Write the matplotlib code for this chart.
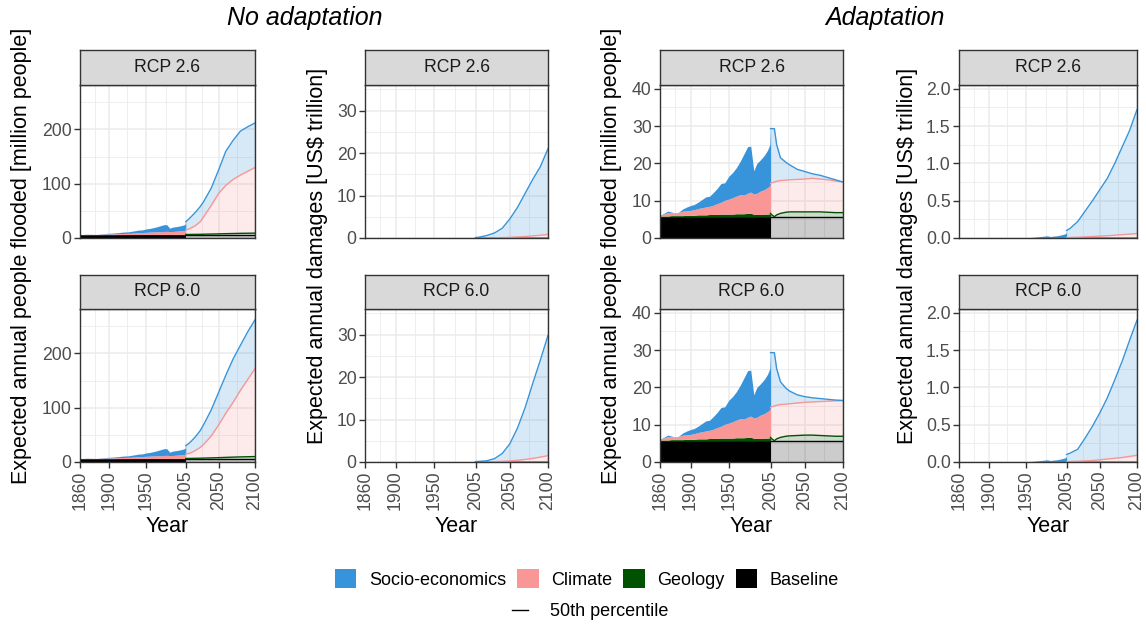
import matplotlib
matplotlib.use('Agg')
import matplotlib.pyplot as plt
from matplotlib.patches import Patch
from matplotlib.lines import Line2D
from matplotlib.ticker import FixedLocator, MultipleLocator, FormatStrFormatter

plt.rcParams['font.family'] = ['Liberation Sans', 'DejaVu Sans']

W, H = 1146, 624

# colours of the four drivers
col_socio = '#3794DA'
col_climate = '#F99696'
col_geology = '#005200'
col_base = '#000000'

# ---- historical period (shared by all panels) ----
hist_years = [1860, 1865, 1870, 1875, 1880, 1885, 1890, 1895, 1900, 1905, 1910, 1915,
              1920, 1925, 1930, 1935, 1940, 1945, 1950, 1955, 1960, 1965, 1970, 1975,
              1979, 1983, 1987, 1992, 1997, 2001, 2004, 2005]
# people flooded, top of each stacked layer [million]
hist_ppl_base = [5.6] * 32
hist_ppl_geo = [5.9, 5.9, 5.9, 6.0, 6.0, 6.0, 6.0, 6.1, 6.1, 6.1, 6.2, 6.2,
                6.2, 6.3, 6.3, 6.3, 6.4, 6.4, 6.4, 6.4, 6.5, 6.5, 6.5, 6.6,
                6.6, 6.4, 6.3, 6.3, 6.4, 6.4, 6.5, 6.5]
hist_ppl_clim = [6.0, 6.4, 6.8, 6.9, 6.7, 6.9, 7.2, 7.3, 7.4, 7.6, 7.9, 8.1,
                 8.3, 8.5, 8.8, 9.2, 9.6, 10.1, 10.4, 10.8, 11.2, 11.6, 11.5, 12.0,
                 12.3, 11.8, 12.0, 12.6, 13.0, 13.5, 14.0, 14.6]
hist_ppl_socio = [6.1, 6.6, 7.2, 7.0, 6.6, 7.0, 7.8, 8.3, 8.7, 9.0, 9.6, 10.3,
                  11.0, 11.2, 12.2, 13.3, 14.6, 14.8, 16.5, 17.5, 18.8, 20.5, 22.5, 24.5,
                  24.6, 18.0, 20.0, 21.0, 22.2, 23.5, 25.0, 30.5]
# damages, top of each stacked layer [US$ trillion]
hist_dmg_base = [0.0] * 32
hist_dmg_geo = [0.0] * 32
hist_dmg_clim = [0.0] * 26 + [0.001, 0.001, 0.002, 0.002, 0.003, 0.004]
hist_dmg_socio = [0.0] * 18 + [0.002, 0.005, 0.01, 0.015, 0.02, 0.025,
                               0.03, 0.02, 0.025, 0.03, 0.04, 0.05, 0.06, 0.09]

# ---- future, people flooded ----
fut_years = [2005, 2006, 2010, 2013, 2018, 2025, 2030, 2040, 2050, 2060, 2070, 2080, 2090, 2100]

na26_ppl_base = [5.6] * 14
na26_ppl_geo = [6.5, 6.5, 6.6, 6.6, 6.7, 6.8, 7.0, 7.3, 7.6, 8.0, 8.3, 8.6, 8.8, 9.0]
na26_ppl_clim = [14.6, 15.0, 17.0, 19.0, 22.5, 30.0, 40.0, 60.0, 82.0, 97.0, 108.0, 116.0, 123.0, 130.0]
na26_ppl_socio = [30.0, 31.0, 36.0, 40.0, 47.0, 58.0, 68.0, 92.0, 125.0, 160.0, 180.0, 197.0, 205.0, 212.0]

na60_ppl_base = [5.6] * 14
na60_ppl_geo = [6.5, 6.5, 6.6, 6.7, 6.8, 7.0, 7.2, 7.6, 8.0, 8.5, 9.0, 9.4, 9.7, 10.0]
na60_ppl_clim = [14.6, 15.0, 16.0, 17.5, 21.0, 27.0, 33.0, 48.0, 68.0, 90.0, 110.0, 132.0, 152.0, 172.0]
na60_ppl_socio = [30.0, 31.0, 35.0, 39.0, 46.0, 58.0, 70.0, 96.0, 128.0, 160.0, 190.0, 215.0, 240.0, 262.0]

ad26_ppl_base = [5.6] * 14
ad26_ppl_geo = [6.6, 6.3, 5.7, 6.2, 6.6, 6.9, 7.0, 7.0, 7.0, 7.0, 7.0, 6.9, 6.8, 6.8]
ad26_ppl_clim = [14.6, 14.8, 15.0, 15.2, 15.4, 15.5, 15.6, 15.7, 15.8, 16.0, 15.8, 15.6, 15.3, 15.0]
ad26_ppl_socio = [29.3, 29.3, 29.3, 25.0, 21.5, 20.3, 19.6, 18.4, 17.8, 17.2, 16.8, 16.2, 15.6, 15.0]

ad60_ppl_base = [5.6] * 14
ad60_ppl_geo = [6.6, 6.3, 5.7, 6.2, 6.6, 6.9, 7.0, 7.1, 7.2, 7.2, 7.1, 7.0, 6.9, 6.9]
ad60_ppl_clim = [14.6, 14.8, 15.0, 15.2, 15.4, 15.5, 15.6, 15.8, 16.0, 16.1, 16.2, 16.3, 16.4, 16.4]
ad60_ppl_socio = [29.3, 29.3, 29.3, 25.0, 21.5, 19.8, 19.0, 18.0, 17.5, 17.2, 17.0, 16.8, 16.6, 16.5]

# ---- future, damages ----
fut_dmg_years = [2005, 2010, 2020, 2030, 2040, 2050, 2060, 2070, 2080, 2090, 2100]
zero_dmg = [0.0] * 11

na26_dmg_clim = [0.0, 0.0, 0.02, 0.05, 0.1, 0.15, 0.25, 0.35, 0.5, 0.65, 0.85]
na26_dmg_socio = [0.1, 0.2, 0.6, 1.2, 2.3, 4.5, 7.2, 10.5, 13.8, 16.8, 21.0]

na60_dmg_clim = [0.0, 0.0, 0.03, 0.08, 0.15, 0.25, 0.4, 0.6, 0.85, 1.15, 1.5]
na60_dmg_socio = [0.1, 0.15, 0.3, 0.8, 2.0, 4.3, 8.0, 12.8, 18.5, 24.0, 29.8]

ad26_dmg_clim = [0.005, 0.007, 0.01, 0.015, 0.02, 0.025, 0.03, 0.037, 0.045, 0.052, 0.06]
ad26_dmg_socio = [0.1, 0.13, 0.22, 0.36, 0.5, 0.65, 0.8, 1.0, 1.22, 1.44, 1.72]

ad60_dmg_clim = [0.005, 0.007, 0.01, 0.015, 0.02, 0.03, 0.04, 0.05, 0.06, 0.075, 0.09]
ad60_dmg_socio = [0.1, 0.12, 0.17, 0.32, 0.48, 0.66, 0.86, 1.1, 1.35, 1.63, 1.9]

scenarios = ['RCP 2.6', 'RCP 6.0']
x_major = [1860, 1900, 1950, 2005, 2050, 2100]
x_minor = [1880, 1925, 1977.5, 2027.5, 2075]

hist_ppl = (hist_ppl_base, hist_ppl_geo, hist_ppl_clim, hist_ppl_socio)
hist_dmg = (hist_dmg_base, hist_dmg_geo, hist_dmg_clim, hist_dmg_socio)

# column: (left px, right px, ylim top, major, minor, fmt, ylabel, historical, future per scenario)
columns = [
    (80, 255, 282, 100, 50, '%d', 'Expected annual people flooded [million people]', hist_ppl, fut_years,
     [(na26_ppl_base, na26_ppl_geo, na26_ppl_clim, na26_ppl_socio),
      (na60_ppl_base, na60_ppl_geo, na60_ppl_clim, na60_ppl_socio)]),
    (365, 548, 36, 10, 5, '%d', 'Expected annual damages [US$ trillion]', hist_dmg, fut_dmg_years,
     [(zero_dmg, zero_dmg, na26_dmg_clim, na26_dmg_socio),
      (zero_dmg, zero_dmg, na60_dmg_clim, na60_dmg_socio)]),
    (660, 843, 41, 10, 5, '%d', 'Expected annual people flooded [million people]', hist_ppl, fut_years,
     [(ad26_ppl_base, ad26_ppl_geo, ad26_ppl_clim, ad26_ppl_socio),
      (ad60_ppl_base, ad60_ppl_geo, ad60_ppl_clim, ad60_ppl_socio)]),
    (959, 1137, 2.05, 0.5, 0.25, '%.1f', 'Expected annual damages [US$ trillion]', hist_dmg, fut_dmg_years,
     [(zero_dmg, zero_dmg, ad26_dmg_clim, ad26_dmg_socio),
      (zero_dmg, zero_dmg, ad60_dmg_clim, ad60_dmg_socio)]),
]
ylabel_x = [22, 318, 612, 907]

# rows: (strip top, panel top, panel bottom) in px
rows = [(50, 85, 238), (275, 309, 462)]

layer_cols = [col_base, col_geology, col_climate, col_socio]


def fig_rect(left, top, right, bottom):
    return [left / W, 1 - bottom / H, (right - left) / W, (bottom - top) / H]


fig = plt.figure(figsize=(W / 100, H / 100), dpi=100)

for ci, (left, right, ytop, major, minor, fmt, ylab, hist, fyears, futs) in enumerate(columns):
    for ri, (s_top, p_top, p_bot) in enumerate(rows):
        ax = fig.add_axes(fig_rect(left, p_top, right, p_bot))
        # historical, solid stack
        lower = [0.0] * len(hist_years)
        for layer, c in zip(hist, layer_cols):
            ax.fill_between(hist_years, lower, layer, color=c, linewidth=0, zorder=2)
            lower = layer
        # future, transparent stack with median lines
        fut = futs[ri]
        lower = [0.0] * len(fyears)
        for layer, c in zip(fut, layer_cols):
            ax.fill_between(fyears, lower, layer, color=c, alpha=0.2, linewidth=0, zorder=2)
            ax.plot(fyears, layer, color=c, linewidth=1.0, zorder=3)
            lower = layer

        ax.set_xlim(1860, 2100)
        ax.set_ylim(0, ytop)
        ax.xaxis.set_major_locator(FixedLocator(x_major))
        ax.xaxis.set_minor_locator(FixedLocator(x_minor))
        ax.yaxis.set_major_locator(MultipleLocator(major))
        ax.yaxis.set_minor_locator(MultipleLocator(minor))
        ax.yaxis.set_major_formatter(FormatStrFormatter(fmt))
        ax.grid(which='major', color='#EBEBEB', linewidth=1.1, zorder=0)
        ax.grid(which='minor', color='#EBEBEB', linewidth=0.6, zorder=0)
        ax.set_axisbelow(True)
        for sp in ax.spines.values():
            sp.set_color('#333333')
            sp.set_linewidth(1.0)
            sp.set_zorder(5)
        ax.tick_params(which='major', direction='out', length=4, width=1,
                       color='#333333', labelcolor='#4D4D4D', labelsize=12.7, pad=2)
        ax.tick_params(which='minor', length=0)
        if ri == 0:
            ax.tick_params(axis='x', which='both', bottom=False, labelbottom=False)
        else:
            ax.set_xticklabels([str(v) for v in x_major], rotation=90)

        # facet strip
        sax = fig.add_axes(fig_rect(left, s_top, right, p_top))
        sax.set_facecolor('#D9D9D9')
        sax.set_xticks([])
        sax.set_yticks([])
        for sp in sax.spines.values():
            sp.set_color('#333333')
            sp.set_linewidth(1.0)
        sax.text(0.5, 0.5, scenarios[ri], ha='center', va='center', fontsize=12.7,
                 color='#1A1A1A', transform=sax.transAxes)

    fig.text(ylabel_x[ci] / W, 1 - 256 / H, ylab, rotation=90, ha='center', va='center',
             fontsize=15.5, color='black')
    fig.text((left + right) / 2 / W, 1 - 527 / H, 'Year', ha='center', va='center',
             fontsize=15.5, color='black')

fig.text(305 / W, 1 - 18 / H, 'No adaptation', ha='center', va='center',
         fontsize=18, style='italic')
fig.text(885 / W, 1 - 18 / H, 'Adaptation', ha='center', va='center',
         fontsize=18, style='italic')

# legends
handles = [Patch(facecolor=c, edgecolor='none') for c in [col_socio, col_climate, col_geology, col_base]]
labels = ['Socio-economics', 'Climate', 'Geology', 'Baseline']
leg1 = fig.legend(handles, labels, loc='center', bbox_to_anchor=(587 / W, 1 - 579 / H), ncol=4,
                  frameon=False, fontsize=13, handlelength=1.2, handleheight=1.2,
                  handletextpad=0.7, columnspacing=0.6)
leg2 = fig.legend([Line2D([0], [0], color='black', linewidth=1)], ['50th percentile'], loc='center',
                  bbox_to_anchor=(590 / W, 1 - 612 / H), frameon=False, fontsize=13,
                  handlelength=0.9, handletextpad=1.2)

fig.savefig('out.png', dpi=100)
